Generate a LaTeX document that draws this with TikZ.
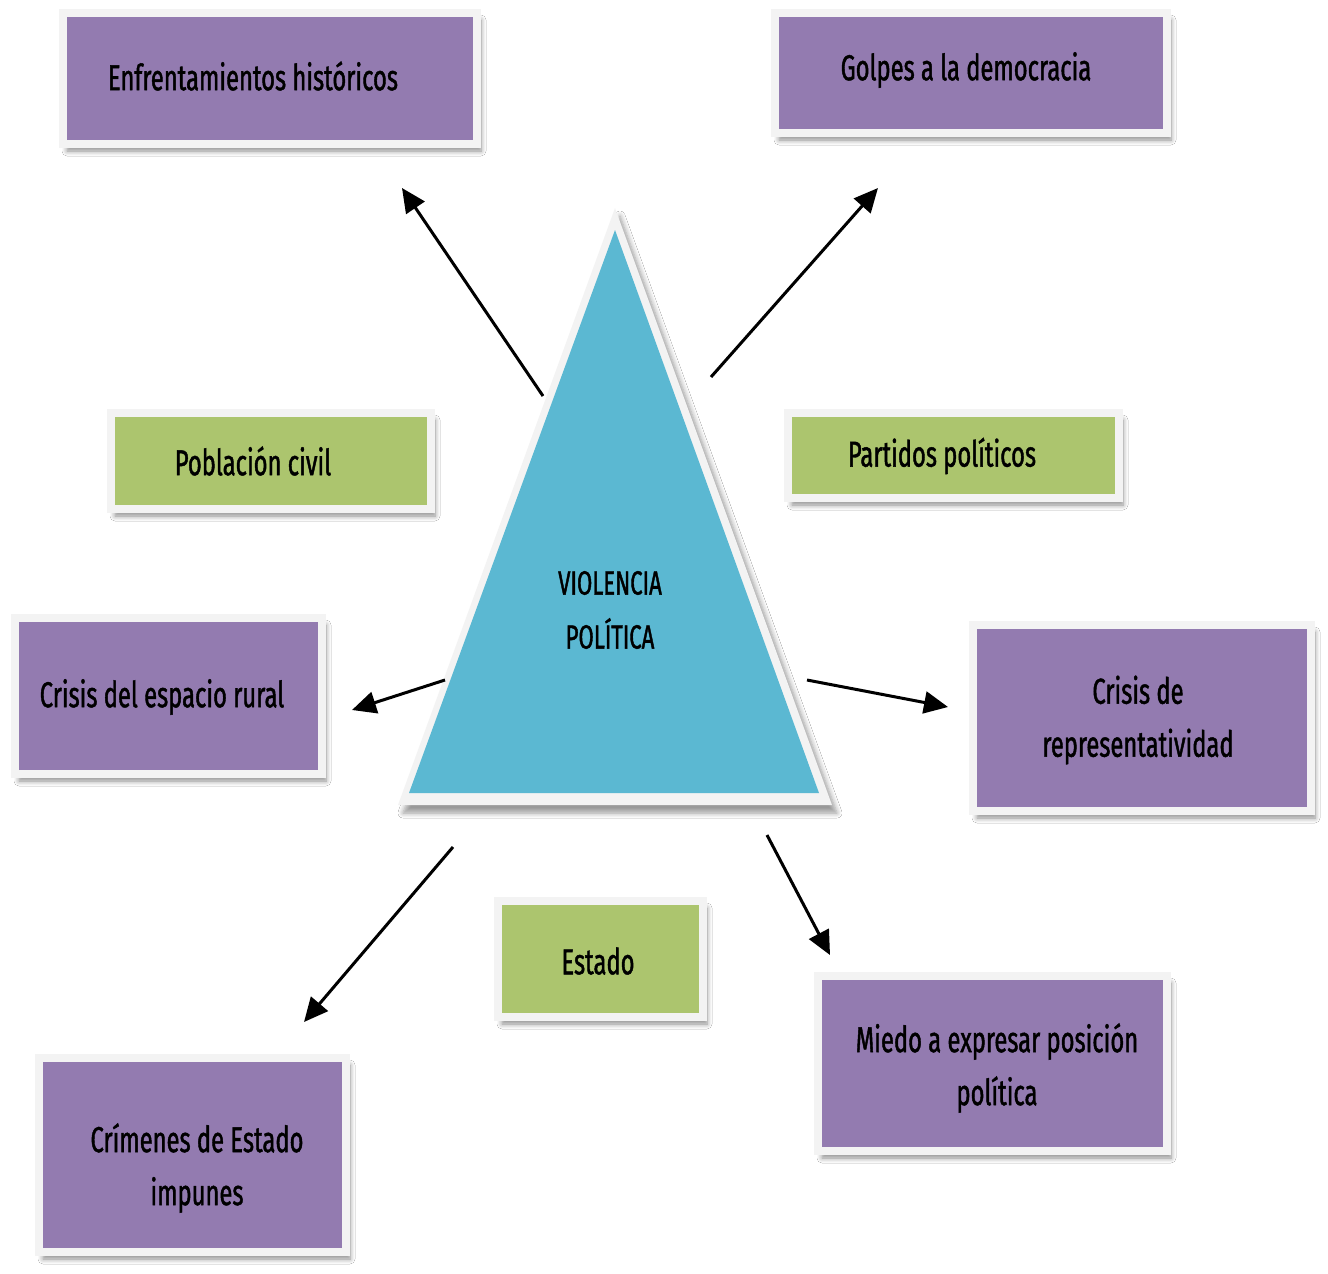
\documentclass[tikz,border=0pt]{standalone}
\usepackage{fontspec}
\newfontfamily\condf[FakeStretch=0.66,FakeBold=1.2]{Fira Sans}
\usetikzlibrary{arrows.meta,shadows.blur}
\definecolor{boxpurple}{RGB}{147,123,176}
\definecolor{boxgreen}{RGB}{172,197,110}
\definecolor{triblue}{RGB}{91,184,210}
\definecolor{framegray}{RGB}{243,243,243}
\tikzset{
  boxbase/.style={rectangle, draw=framegray, line width=8pt, inner sep=0pt,
    blur shadow={shadow xshift=4pt, shadow yshift=-7pt, shadow blur steps=6,
      shadow blur radius=5pt, shadow opacity=45}},
  pbox/.style={boxbase, fill=boxpurple},
  gbox/.style={boxbase, fill=boxgreen},
  lbl/.style={font=\condf\fontsize{36}{53}\selectfont, align=center, inner sep=0pt, text=black},
  conn/.style={line width=3pt, draw=black, -{Triangle[length=24pt,width=22pt,fill=black]}},
}
\begin{document}
\begin{tikzpicture}[x=1pt,y=-1pt]
\useasboundingbox (0,0) rectangle (1328,1274);
\fill[white] (0,0) rectangle (1328,1274);

% boxes
\node[pbox, minimum width=414, minimum height=131] (b1) at (270,78.5) {};
\node[pbox, minimum width=392, minimum height=120] (b2) at (971,73) {};
\node[gbox, minimum width=320, minimum height=96] (b3) at (271,461) {};
\node[gbox, minimum width=331, minimum height=85] (b4) at (953.5,455.5) {};
\node[pbox, minimum width=307, minimum height=156] (b5) at (168.5,696) {};
\node[pbox, minimum width=338, minimum height=186] (b6) at (1142,718) {};
\node[gbox, minimum width=205, minimum height=116] (b7) at (600.5,959) {};
\node[pbox, minimum width=349, minimum height=175] (b8) at (992.5,1063.5) {};
\node[pbox, minimum width=307, minimum height=194] (b9) at (192.5,1155) {};

% labels
\node[lbl] (t1) at (253,76) {Enfrentamientos históricos};
\node[lbl] (t2) at (966,70) {Golpes a la democracia};
\node[lbl] (t3) at (253,461) {Población civil};
\node[lbl] (t4) at (942,456) {Partidos políticos};
\node[lbl] (t5) at (162,697) {Crisis del espacio rural};
\node[lbl] (t6) at (1138,720) {Crisis de\\representatividad};
\node[lbl] (t7) at (598,961) {Estado};
\node[lbl] (t8) at (997,1068) {Miedo a expresar posición\\política};
\node[lbl] (t9) at (197,1168) {Crímenes de Estado\\impunes};

% triangle
\fill[framegray, blur shadow={shadow xshift=5pt, shadow yshift=-8pt, shadow blur steps=6,
      shadow blur radius=5pt, shadow opacity=40}]
  (615,208) -- (832,805) -- (398,805) -- cycle;
\fill[triblue] (615,230) -- (819,793) -- (409,793) -- cycle;
\node[lbl, font=\condf\fontsize{33.5}{54}\selectfont] (tv) at (610,610) {VIOLENCIA\\POLÍTICA};

% connector ends
\coordinate (s1) at (543,396);  \coordinate (e1) at (402,188);
\coordinate (s2) at (711,377);  \coordinate (e2) at (878,188);
\coordinate (s3) at (445,680);  \coordinate (e3) at (352,710);
\coordinate (s4) at (807,680);  \coordinate (e4) at (948,707);
\coordinate (s5) at (453,847);  \coordinate (e5) at (304,1022);
\coordinate (s6) at (767,835);  \coordinate (e6) at (830,955);
\draw[conn] (s1) -- (e1);
\draw[conn] (s2) -- (e2);
\draw[conn] (s3) -- (e3);
\draw[conn] (s4) -- (e4);
\draw[conn] (s5) -- (e5);
\draw[conn] (s6) -- (e6);
\end{tikzpicture}
\end{document}
